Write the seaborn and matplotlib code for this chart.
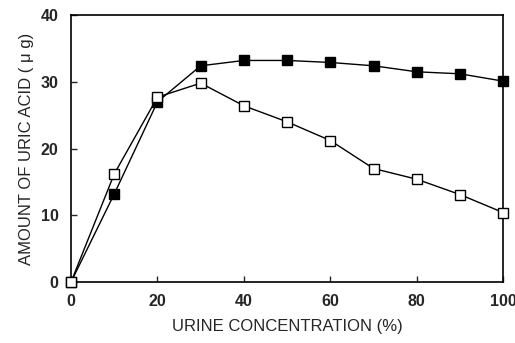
import matplotlib
matplotlib.use("Agg")
import matplotlib.pyplot as plt
import seaborn as sns
import pandas as pd

conc = [0, 10, 20, 30, 40, 50, 60, 70, 80, 90, 100]
filled = [0, 13.2, 27.0, 32.4, 33.2, 33.2, 32.9, 32.4, 31.5, 31.2, 30.1]
open_ = [0, 16.2, 27.7, 29.8, 26.4, 24.0, 21.2, 17.0, 15.4, 13.1, 10.4]

sns.set_style("ticks")
plt.rcParams['font.family'] = ['Liberation Sans', 'Noto Sans CJK JP', 'DejaVu Sans']

fig = plt.figure(figsize=(5.15, 3.43), dpi=100)
ax = fig.add_axes([0.138, 0.178, 0.839, 0.778])

df_f = pd.DataFrame({"x": conc, "y": filled})
df_o = pd.DataFrame({"x": conc, "y": open_})
sns.lineplot(data=df_f, x="x", y="y", ax=ax, color="black", lw=1.0,
             marker="s", markersize=7.5, markerfacecolor="black",
             markeredgecolor="black", markeredgewidth=1.0, zorder=3, clip_on=False)
sns.lineplot(data=df_o, x="x", y="y", ax=ax, color="black", lw=1.0,
             marker="s", markersize=7.5, markerfacecolor="white",
             markeredgecolor="black", markeredgewidth=1.0, zorder=4, clip_on=False)

ax.set_xlim(0, 100)
ax.set_ylim(0, 40)
ax.set_xticks([0, 20, 40, 60, 80, 100])
ax.set_yticks([0, 10, 20, 30, 40])
ax.tick_params(direction="in", length=4, width=1, labelsize=11.5, pad=9)
for lab in ax.get_xticklabels() + ax.get_yticklabels():
    lab.set_fontweight("bold")
for sp in ax.spines.values():
    sp.set_visible(True)
    sp.set_linewidth(1.2)
    sp.set_color("black")
ax.set_xlabel("URINE CONCENTRATION (%)", fontsize=12, labelpad=7)
ax.set_ylabel("AMOUNT OF URIC ACID ( μ g)", fontsize=12, labelpad=5)

fig.savefig("out.png", dpi=100)
